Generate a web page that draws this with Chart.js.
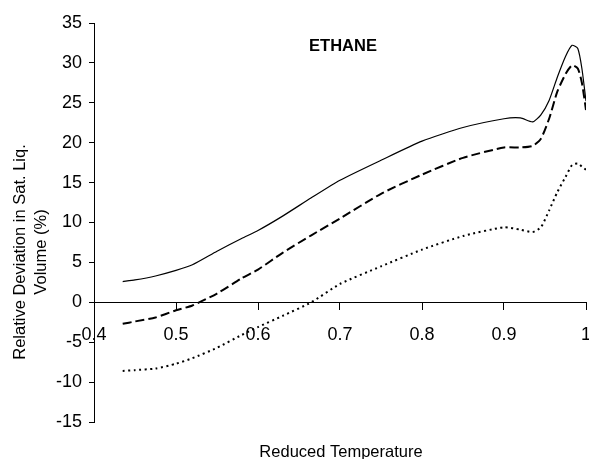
<!DOCTYPE html>
<html>
<head>
<meta charset="utf-8">
<script src="https://cdn.jsdelivr.net/npm/chart.js@4"></script>
<style>
  html, body { margin: 0; padding: 0; background: #fff; }
  #wrap { width: 589px; height: 459px; position: relative; }
</style>
</head>
<body>
<div id="wrap"><canvas id="c"></canvas></div>
<script>
const chartTitle = "ETHANE";
const xTitle = "Reduced Temperature";
const yTitle = ["Relative Deviation in Sat. Liq.", "Volume (%)"];

const temperature = [0.435, 0.45, 0.475, 0.5, 0.52, 0.55, 0.58, 0.6, 0.63, 0.665, 0.7, 0.75, 0.8, 0.85, 0.9, 0.92, 0.935, 0.945, 0.955, 0.965, 0.975, 0.983, 0.99, 0.995, 1.0];
const solidSeries  = [2.6, 2.8, 3.3, 4.0, 4.7, 6.4, 8.0, 9.0, 10.8, 13.1, 15.3, 17.8, 20.2, 21.9, 23.0, 23.1, 22.6, 23.5, 25.3, 28.2, 30.8, 32.2, 31.8, 29.3, 25.2];
const dashedSeries = [-2.7, -2.4, -1.9, -1.0, -0.4, 1.1, 3.0, 4.1, 6.2, 8.4, 10.5, 13.6, 16.0, 18.1, 19.4, 19.4, 19.6, 20.5, 23.0, 26.4, 28.6, 29.7, 29.3, 27.5, 24.1];
const dottedSeries = [-8.6, -8.5, -8.3, -7.7, -7.0, -5.7, -4.1, -3.1, -1.7, 0.0, 2.3, 4.5, 6.6, 8.3, 9.4, 9.1, 8.8, 9.4, 11.5, 13.8, 15.7, 17.2, 17.4, 17.0, 16.6];

const xTicks = { min: 0.4, max: 1.0, step: 0.1 };
const yTicks = { min: -15, max: 35, step: 5 };

const FONT = "'Liberation Sans', Arial, sans-serif";
const pts = ys => temperature.map((x, i) => ({ x: x, y: ys[i] }));

const textPlugin = {
  id: 'texts',
  afterDraw(chart) {
    const ctx = chart.ctx;
    const a = chart.chartArea;
    ctx.save();
    ctx.fillStyle = '#000';
    ctx.textAlign = 'center';
    ctx.textBaseline = 'middle';
    ctx.font = 'bold 16.5px ' + FONT;
    ctx.fillText(chartTitle, 343, 46);
    ctx.font = '16.5px ' + FONT;
    ctx.fillText(xTitle, (a.left + a.right) / 2 + 1, 452);
    ctx.translate(0, 252);
    ctx.rotate(-Math.PI / 2);
    ctx.fillText(yTitle[0], 0, 20);
    ctx.fillText(yTitle[1], 0, 41);
    ctx.restore();
  }
};

new Chart(document.getElementById('c'), {
  type: 'line',
  data: {
    datasets: [
      { data: pts(solidSeries), borderColor: '#000', borderWidth: 1.2, pointRadius: 0, tension: 0.2, fill: false },
      { data: pts(dashedSeries), borderColor: '#000', borderWidth: 2, borderDash: [9, 4], pointRadius: 0, tension: 0.2, fill: false },
      { data: pts(dottedSeries), borderColor: '#000', borderWidth: 2, borderDash: [2, 3.5], pointRadius: 0, tension: 0.2, fill: false }
    ]
  },
  options: {
    responsive: true,
    maintainAspectRatio: false,
    animation: false,
    layout: { padding: { left: 0, right: 3, top: 23, bottom: 37 } },
    plugins: { legend: { display: false }, tooltip: { enabled: false }, title: { display: false } },
    scales: {
      x: {
        type: 'linear',
        position: { y: 0 },
        min: xTicks.min, max: xTicks.max,
        ticks: {
          stepSize: xTicks.step,
          color: '#000',
          font: { family: FONT, size: 18 },
          padding: 15,
          maxRotation: 0,
          callback: v => String(Number(v.toFixed(1)))
        },
        grid: { drawOnChartArea: false, drawTicks: true, tickLength: 7, color: '#000' },
        border: { color: '#000', width: 1 },
        afterFit: s => { s.paddingLeft = 0; s.paddingRight = 0; }
      },
      y: {
        type: 'linear',
        position: 'left',
        min: yTicks.min, max: yTicks.max,
        ticks: {
          stepSize: yTicks.step,
          color: '#000',
          font: { family: FONT, size: 18 },
          padding: 7
        },
        grid: { drawOnChartArea: false, drawTicks: true, tickLength: 5, color: '#000' },
        border: { color: '#000', width: 1 },
        afterFit: s => { s.width = 94; }
      }
    }
  },
  plugins: [textPlugin]
});
</script>
</body>
</html>
